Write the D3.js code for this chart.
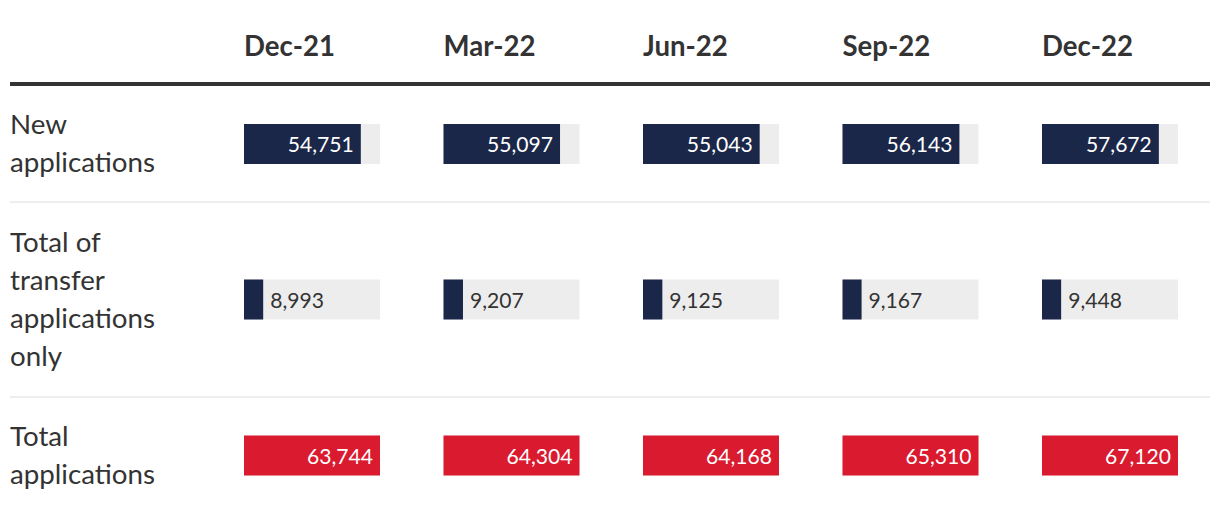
<!DOCTYPE html>
<html>
<head>
<meta charset="utf-8">
<script src="https://cdn.jsdelivr.net/npm/d3@7"></script>
<style>
  html, body { margin: 0; padding: 0; background: #fff; }
  svg { display: block; }
</style>
</head>
<body>
<svg id="chart" width="1220" height="524"></svg>
<script>
// ---- data ----
const periods = ["Dec-21", "Mar-22", "Jun-22", "Sep-22", "Dec-22"];
const rowLabels = [
  ["New", "applications"],
  ["Total of", "transfer", "applications", "only"],
  ["Total", "applications"]
];
const newApplications = [54751, 55097, 55043, 56143, 57672];
const transferApplications = [8993, 9207, 9125, 9167, 9448];
const totalApplications = [63744, 64304, 64168, 65310, 67120];

// ---- layout ----
const W = 1220, H = 524;
const FONT = "Lato, 'Open Sans', sans-serif";
const navy = "#1b2749", red = "#d91a2f", track = "#ededed", ink = "#333333";
const svg = d3.select("#chart");
svg.append("rect").attr("width", W).attr("height", H).attr("fill", "#fff");

const x = d3.scaleBand().domain(periods).range([244, 244 + 199.5 * periods.length]).paddingInner(0);
const trackW = 136;

// helper to fit font size to a reference width
function fitSize(text, weight, targetW, base) {
  const t = svg.append("text").attr("font-family", FONT).attr("font-weight", weight)
    .attr("font-size", base).text(text);
  const w = t.node().getComputedTextLength();
  t.remove();
  return base * targetW / w;
}
const labelSize = fitSize("applications", 400, 145, 24);
const headSize = fitSize("Dec-21", 700, 91, 28);
const numSize = fitSize("54,751", 400, 66, 22);

// header
svg.append("g").selectAll("text").data(periods).join("text")
  .attr("x", d => x(d)).attr("y", 56)
  .attr("font-family", FONT).attr("font-weight", 700).attr("font-size", headSize)
  .attr("fill", ink).text(d => d);

svg.append("rect").attr("x", 10).attr("y", 82).attr("width", 1200).attr("height", 4).attr("fill", "#333");

// rows
const rows = [
  { labels: rowLabels[0], values: newApplications, color: navy, top: 86, bottom: 202 },
  { labels: rowLabels[1], values: transferApplications, color: navy, top: 202, bottom: 397 },
  { labels: rowLabels[2], values: totalApplications, color: red, top: 397, bottom: 514 }
];
const fmt = d3.format(",");
const lineH = 38;

rows.forEach((r, ri) => {
  const cy = (r.top + r.bottom) / 2;
  if (ri > 0) {
    svg.append("rect").attr("x", 10).attr("y", r.top - 1).attr("width", 1200).attr("height", 2).attr("fill", "#eeeeee");
  }
  const n = r.labels.length;
  svg.append("g").selectAll("text").data(r.labels).join("text")
    .attr("x", 10)
    .attr("y", (d, i) => cy + 9 + (i - (n - 1) / 2) * lineH)
    .attr("font-family", FONT).attr("font-size", labelSize).attr("fill", ink)
    .text(d => d);

  const g = svg.append("g");
  periods.forEach((p, i) => {
    const scale = d3.scaleLinear().domain([0, totalApplications[i]]).range([0, trackW]);
    const v = r.values[i];
    const bx = x(p), by = cy - 20;
    g.append("rect").attr("x", bx).attr("y", by).attr("width", trackW).attr("height", 40).attr("fill", track);
    const bw = scale(v);
    g.append("rect").attr("x", bx).attr("y", by).attr("width", bw).attr("height", 40).attr("fill", r.color);
    const inside = bw > 80;
    g.append("text")
      .attr("x", inside ? bx + bw - 7 : bx + bw + 7)
      .attr("y", cy + 8)
      .attr("text-anchor", inside ? "end" : "start")
      .attr("font-family", FONT).attr("font-size", numSize)
      .attr("fill", inside ? "#fff" : ink)
      .text(fmt(v));
  });
});
</script>
</body>
</html>
